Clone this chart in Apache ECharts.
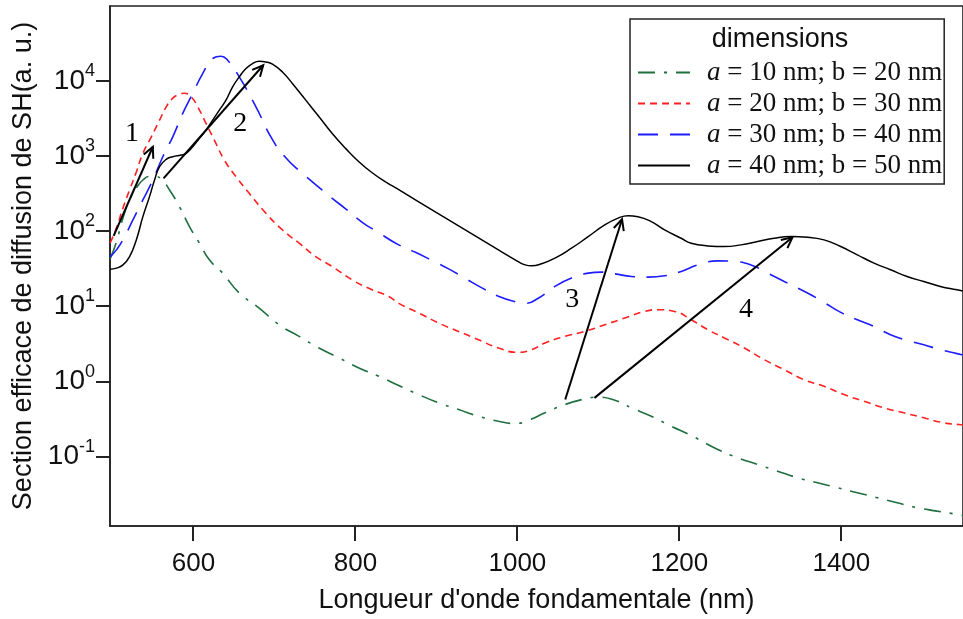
<!DOCTYPE html>
<html><head><meta charset="utf-8">
<script src="https://cdn.jsdelivr.net/npm/echarts@6/dist/echarts.min.js"></script>
<style>html,body{margin:0;padding:0;background:#fff}#c{width:963px;height:619px}</style>
</head><body><div id="c"></div>
<script>
// ---- data (x: wavelength in nm, y: SH scattering cross-section, a.u.) ----
const seriesNames = ['a = 10 nm; b = 20 nm', 'a = 20 nm; b = 30 nm', 'a = 30 nm; b = 40 nm', 'a = 40 nm; b = 50 nm'];

const greenX = [497.2,504.9,513.0,521.2,529.5,537.6,545.8,552.0,560.2,570.5,582.8,595.1,607.4,619.7,636.1,656.6,681.2,705.8,730.5,755.1,779.7,804.3,828.9,853.5,878.2,902.8,927.4,952.0,976.6,997.2,1013.6,1034.1,1058.7,1083.3,1099.7,1120.3,1140.7,1165.3,1189.9,1214.5,1247.4,1272.0,1296.6,1321.2,1345.8,1370.5,1395.1,1419.7,1444.3,1468.9,1493.5,1518.2,1542.8,1550.0];
const greenY = [43.1,72.4,151,262,378,483,537,537,498,356,213,116,69.6,41.8,27.8,15.1,9.53,5.71,4.0,2.80,2.07,1.52,1.18,0.885,0.672,0.521,0.425,0.346,0.297,0.277,0.306,0.384,0.495,0.589,0.622,0.565,0.448,0.346,0.255,0.192,0.125,0.0969,0.0789,0.0643,0.0526,0.0451,0.0387,0.0332,0.0285,0.0244,0.0210,0.0189,0.0171,0.0165];

const redX = [497.2,504.9,513.0,521.2,529.5,537.6,547.9,558.2,566.4,574.5,582.8,588.9,597.2,605.3,615.6,625.8,638.2,652.6,668.9,689.5,709.9,730.5,751.0,771.4,796.1,820.7,841.2,853.5,878.2,902.8,927.4,952.0,976.6,1001.2,1017.6,1034.1,1058.7,1083.3,1107.9,1132.6,1157.2,1173.5,1194.1,1214.5,1235.1,1255.6,1280.2,1304.8,1329.5,1354.1,1378.7,1403.3,1427.9,1452.6,1477.2,1501.8,1526.4,1544.9,1550.0];
const redY = [70.3,111,205,356,617,1092,1800,3027,4545,5930,6700,6900,6170,4545,2735,1641,890,534,321,174,104.5,69.6,46.2,34.0,22.6,16.7,13.6,11.0,8.18,6.03,4.66,3.61,2.80,2.45,2.66,3.27,4.0,4.66,5.71,7.02,8.59,9.05,8.59,6.67,4.91,3.81,2.80,1.96,1.44,1.06,0.867,0.672,0.547,0.448,0.384,0.330,0.283,0.268,0.264];

const blueX = [497.2,504.9,513.0,525.3,537.6,549.9,562.2,574.5,586.8,599.1,611.4,623.8,634.1,642.2,656.6,677.2,697.6,714.1,730.5,746.8,771.4,787.9,808.4,824.9,853.5,874.1,894.5,915.1,935.6,956.1,976.6,997.2,1009.5,1025.8,1046.4,1066.8,1087.4,1103.8,1120.3,1140.7,1161.2,1181.8,1202.2,1222.8,1247.4,1268.0,1288.4,1308.9,1329.5,1358.2,1378.7,1399.2,1419.7,1440.3,1460.7,1481.2,1501.8,1522.2,1542.8,1550.0];
const blueY = [45.8,56.7,77,142,262,483,985,1815,3715,6850,12620,20000,21440,18970,11380,4545,1660,955,646,457,275,200,132,102,66.1,52.6,41.1,31.7,23.7,17.7,13.7,11.6,11.0,12.9,18.5,23.9,27.8,28.7,27.2,25.1,24.6,25.6,29.2,35.8,40.5,39.7,35.8,27.8,21.5,15.1,11.3,8.34,6.67,5.43,4.21,3.54,3.10,2.66,2.36,2.26];

const blackX = [497.0,504.9,513.0,521.2,529.5,537.6,545.8,552.0,558.2,566.4,574.5,584.9,591.0,599.1,607.4,615.6,623.8,632.0,640.2,648.4,656.6,664.9,673.0,681.2,689.5,697.6,709.9,722.2,738.7,755.1,771.4,787.9,804.3,820.7,837.2,853.5,874.1,894.5,915.1,935.6,956.1,976.6,997.2,1009.5,1017.6,1029.9,1046.4,1066.8,1087.4,1107.9,1124.3,1136.6,1148.9,1165.3,1181.8,1202.2,1214.5,1235.1,1255.6,1276.1,1296.6,1317.2,1337.6,1358.2,1378.7,1399.2,1419.7,1440.3,1460.7,1481.2,1501.8,1522.2,1542.8,1550.0];
const blackY = [31.4,32.4,35.8,46.2,77,157,290,483,725,910,985,1037,1092,1337,1730,2230,3027,4110,5580,8380,11380,14720,17140,18400,18000,16790,13260,9300,5580,3350,2014,1273,845,603,457,359,262,193,142,104.5,77,56.7,41.8,35.8,34.8,37,44,59.7,85,122,150,162,157,135,104.5,81,69.6,64.1,62.8,66.1,73.1,81,85.2,83.6,77,62.8,48.7,37.8,30.8,25.1,21.5,18.5,16.7,16.1];

// axis ticks
const xTicks = [600, 800, 1000, 1200, 1400];
const yTickExponents = [-1, 0, 1, 2, 3, 4];
const xRange = [497, 1550.2];
const yRangeLog = [-1.922, 5.0];

// annotation arrows: [startX, startY, endX, endY] (nm, a.u.)
const arrows = [
  [501.5, 87.1, 549.9, 1337],
  [563.1, 508, 686.2, 16270],
  [1059.1, 0.577, 1129.2, 145],
  [1095.2, 0.607, 1339.7, 83.6]
];
const arrowLabels = ['1', '2', '3', '4'];
const arrowLabelPos = [[524.1, 1995], [657.8, 2735], [1067.7, 12.3], [1282.2, 9.05]];

// ---- build ----
const lg = v => Math.log10(v);
const pairs = (xs, ys) => xs.map((x, i) => [x, lg(ys[i])]);

const sans = '"Liberation Sans", Arial, sans-serif';
const serif = '"Liberation Serif", "Times New Roman", serif';
const axisColor = '#222';

const styles = [
  { color: '#1f6f3f', type: [17, 9, 3, 9], width: 1.6 },
  { color: '#ff2020', type: [7, 5], width: 1.6 },
  { color: '#1c1cff', type: [20, 12], width: 1.6 },
  { color: '#000000', type: 'solid', width: 1.5 }
];
const datasets = [pairs(greenX, greenY), pairs(redX, redY), pairs(blueX, blueY), pairs(blackX, blackY)];

const series = datasets.map((d, i) => ({
  type: 'line',
  name: seriesNames[i],
  data: d,
  showSymbol: false,
  symbol: 'none',
  smooth: 0.5,
  lineStyle: styles[i],
  itemStyle: { color: styles[i].color },
  z: 2 + i
}));

// arrows drawn through the axes' coordinate system
series.push({
  type: 'custom',
  name: 'arrows',
  silent: true,
  clip: false,
  z: 10,
  encode: { x: [0, 2], y: [1, 3] },
  data: arrows.map(a => [a[0], lg(a[1]), a[2], lg(a[3])]),
  renderItem: (params, api) => {
    const p0 = api.coord([api.value(0), api.value(1)]);
    const p1 = api.coord([api.value(2), api.value(3)]);
    const ang = Math.atan2(p1[1] - p0[1], p1[0] - p0[0]);
    const L = 12, A = 0.45;
    const a1 = [p1[0] - L * Math.cos(ang - A), p1[1] - L * Math.sin(ang - A)];
    const a2 = [p1[0] - L * Math.cos(ang + A), p1[1] - L * Math.sin(ang + A)];
    return {
      type: 'group',
      children: [
        { type: 'line', shape: { x1: p0[0], y1: p0[1], x2: p1[0], y2: p1[1] }, style: { stroke: '#000', lineWidth: 2 } },
        { type: 'polyline', shape: { points: [a1, p1, a2] }, style: { stroke: '#000', lineWidth: 2, fill: null } }
      ]
    };
  }
});

series.push({
  type: 'custom',
  name: 'arrowLabels',
  silent: true,
  clip: false,
  z: 11,
  encode: { x: 0, y: 1 },
  data: arrowLabelPos.map((p, i) => [p[0], lg(p[1]), i]),
  renderItem: (params, api) => {
    const p = api.coord([api.value(0), api.value(1)]);
    return {
      type: 'text',
      style: { x: p[0], y: p[1], text: arrowLabels[api.value(2)], align: 'center', verticalAlign: 'middle', font: '28px "Liberation Serif", "Times New Roman", serif', fill: '#000' }
    };
  }
});

const titleGraphic = {
  id: 'legendTitle', type: 'text', z: 100,
  style: { x: 780, y: 40, text: 'dimensions', align: 'center', verticalAlign: 'middle', font: '27px "Liberation Sans", Arial, sans-serif', fill: '#111' }
};

const option = {
  animation: false,
  backgroundColor: '#fff',
  grid: { show: true, borderColor: axisColor, borderWidth: 1.6, left: 110, right: -3, top: 6, bottom: 92, containLabel: false },
  xAxis: [{
    type: 'value', min: xRange[0], max: xRange[1], position: 'bottom',
    splitLine: { show: false },
    axisLine: { show: true, onZero: false, lineStyle: { color: axisColor, width: 1.6 } },
    axisTick: { show: false },
    axisLabel: { customValues: xTicks, margin: 25, fontSize: 26, fontFamily: sans, color: '#111', formatter: v => String(Math.round(v)) },
    name: "Longueur d'onde fondamentale (nm)", nameLocation: 'middle', nameGap: 61,
    nameTextStyle: { fontSize: 27, fontFamily: sans, color: '#111' }
  }],
  yAxis: [{
    type: 'value', min: yRangeLog[0], max: yRangeLog[1],
    splitLine: { show: false },
    axisLine: { show: true, onZero: false, lineStyle: { color: axisColor, width: 1.6 } },
    axisTick: { show: false },
    axisLabel: {
      customValues: yTickExponents, margin: 15, color: '#111',
      formatter: v => '{b|10}{s|' + Math.round(v) + '}',
      rich: {
        b: { fontSize: 28, fontFamily: sans, color: '#111' },
        s: { fontSize: 18, fontFamily: sans, color: '#111', padding: [0, 0, 20, 0] }
      }
    },
    name: 'Section efficace de diffusion de SH(a. u.)', nameLocation: 'middle', nameGap: 68,
    nameTextStyle: { fontSize: 27, fontFamily: sans, color: '#111' }
  }],
  legend: {
    data: seriesNames,
    orient: 'vertical',
    left: 630, top: 19,
    padding: [40, 2, 5, 7],
    itemGap: 4,
    itemWidth: 52, itemHeight: 14,
    backgroundColor: '#fff',
    borderColor: axisColor, borderWidth: 1.5,
    selectedMode: false,
    itemStyle: { opacity: 0 },
    formatter: name => '{i|a}{r|' + name.slice(1) + '}',
    textStyle: {
      color: '#111', fontSize: 27, fontFamily: serif,
      rich: {
        i: { fontSize: 27, fontFamily: serif, fontStyle: 'italic', padding: [0, 0, 0, 12], color: '#111' },
        r: { fontSize: 27, fontFamily: serif, color: '#111' }
      }
    }
  },
  graphic: [titleGraphic],
  series: series
};

const chart = echarts.init(document.getElementById('c'), null, { renderer: 'canvas' });
chart.setOption(option);

// outward tick marks, positioned with the grid's own scales (drawn as thin filled bars on a top layer)
const tickMarks = [];
xTicks.forEach((v, i) => {
  const p = chart.convertToPixel({ gridIndex: 0 }, [v, yRangeLog[0]]);
  tickMarks.push({ id: 'xt' + i, type: 'rect', zlevel: 1, z: 50, silent: true,
    shape: { x: Math.round(p[0]) - 1, y: Math.round(p[1]), width: 2, height: 15 }, style: { fill: axisColor } });
});
yTickExponents.forEach((e, i) => {
  const p = chart.convertToPixel({ gridIndex: 0 }, [xRange[0], e]);
  tickMarks.push({ id: 'yt' + i, type: 'rect', zlevel: 1, z: 50, silent: true,
    shape: { x: Math.round(p[0]) - 14, y: Math.round(p[1]) - 1, width: 14, height: 2 }, style: { fill: axisColor } });
});
chart.setOption({ graphic: [titleGraphic].concat(tickMarks) });
</script>
</body></html>
